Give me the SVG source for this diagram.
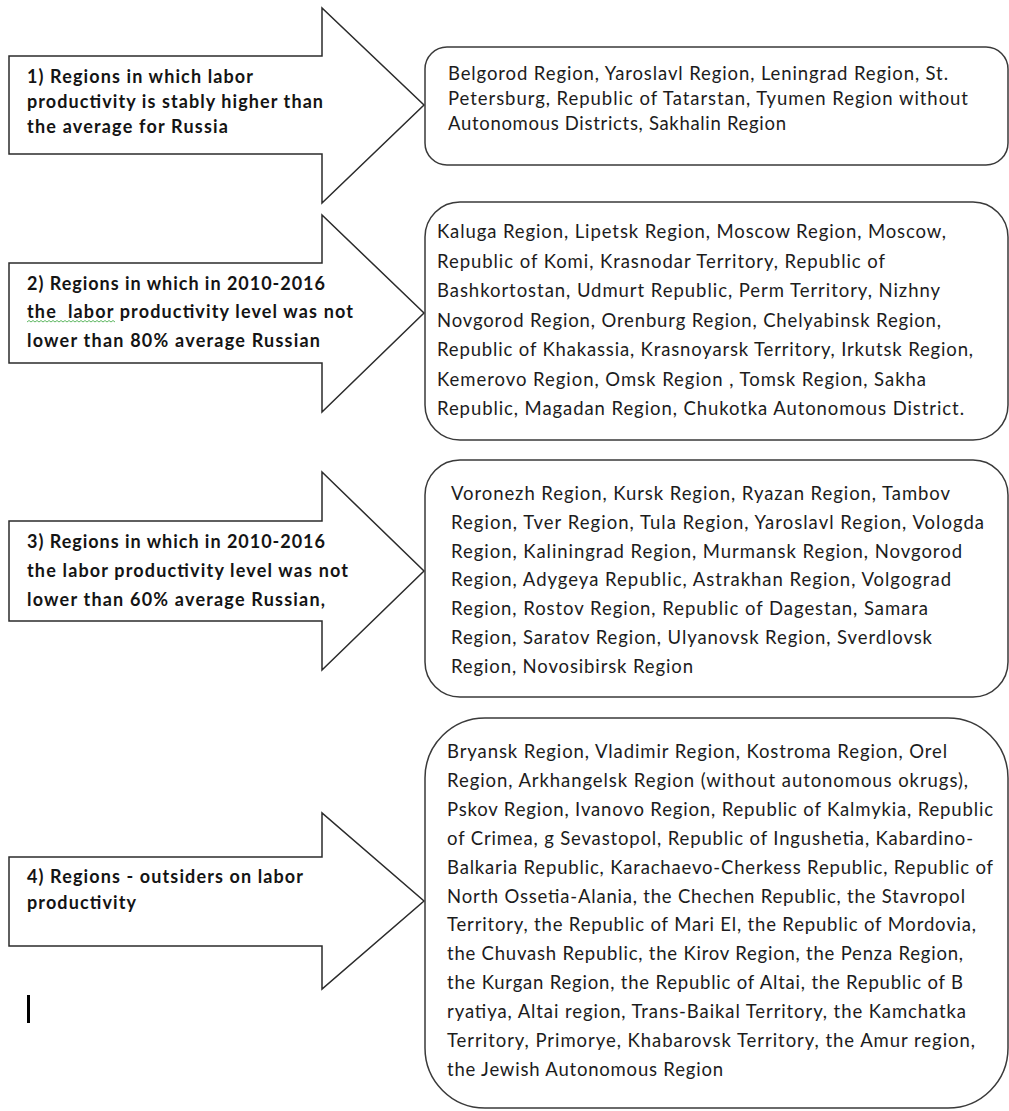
<svg xmlns="http://www.w3.org/2000/svg" width="1009" height="1111" viewBox="0 0 1009 1111">
<style>
.arrow{fill:#fff;stroke:#2b2b2b;stroke-width:1.5;stroke-linejoin:miter}
.box{fill:#fff;stroke:#3a3a3a;stroke-width:1.5}
.lbl{font-family:Lato,"Liberation Sans",sans-serif;font-weight:bold;font-size:18px;fill:#141414}
.txt{font-family:Lato,"Liberation Sans",sans-serif;font-size:18.5px;fill:#1c1c1c}
</style>
<rect width="1009" height="1111" fill="#fff"/>
<g id="connectors"></g>

<g id="arrow1">
<polygon class="arrow" points="9,56 322,56 322,8 424,105 322,203 322,154 9,154"/>
<text class="lbl" x="27" y="83" textLength="226">1) Regions in which labor</text>
<text class="lbl" x="27" y="108" textLength="296">productivity is stably higher than</text>
<text class="lbl" x="27" y="133" textLength="201">the average for Russia</text>
</g>

<g id="arrow2">
<polygon class="arrow" points="9,263 322,263 322,215 424,313 322,412 322,363 9,363"/>
<text class="lbl" x="27" y="290" textLength="298">2) Regions in which in 2010-2016</text>
<text class="lbl" x="27" y="318" textLength="326" xml:space="preserve">the  labor productivity level was not</text>
<text class="lbl" x="27" y="347" textLength="293">lower than 80% average Russian</text>
<path d="M27,322 l2,-1.5 l2,1.5 l2,-1.5 l2,1.5 l2,-1.5 l2,1.5 l2,-1.5 l2,1.5 l2,-1.5 l2,1.5 l2,-1.5 l2,1.5 l2,-1.5 l2,1.5 l2,-1.5 l2,1.5 l2,-1.5 l2,1.5 l2,-1.5 l2,1.5 l2,-1.5 l2,1.5 l2,-1.5 l2,1.5 l2,-1.5 l2,1.5 l2,-1.5 l2,1.5 l2,-1.5 l2,1.5 l2,-1.5 l2,1.5 l2,-1.5 l2,1.5 l2,-1.5 l2,1.5 l2,-1.5 l2,1.5 l2,-1.5 l2,1.5 l2,-1.5 l2,1.5 l2,-1.5 l2,1.5" fill="none" stroke="#4caf50" stroke-width="0.9"/>
</g>

<g id="arrow3">
<polygon class="arrow" points="9,521 322,521 322,472 424,571 322,670 322,621 9,621"/>
<text class="lbl" x="27" y="548" textLength="298">3) Regions in which in 2010-2016</text>
<text class="lbl" x="27" y="577" textLength="321">the labor productivity level was not</text>
<text class="lbl" x="27" y="606" textLength="298">lower than 60% average Russian,</text>
</g>

<g id="arrow4">
<polygon class="arrow" points="9,857 322,857 322,813 424,901 322,989 322,946 9,946"/>
<text class="lbl" x="27" y="883" textLength="276">4) Regions - outsiders on labor</text>
<text class="lbl" x="27" y="909" textLength="109">productivity</text>
</g>

<rect id="cursor" x="27" y="995" width="3" height="28" fill="#000"/>

<g id="box1">
<rect class="box" x="425" y="47" width="583" height="118" rx="22" ry="22"/>
<text class="txt" x="448" y="80" textLength="500">Belgorod Region, Yaroslavl Region, Leningrad Region, St.</text>
<text class="txt" x="448" y="105" textLength="520">Petersburg, Republic of Tatarstan, Tyumen Region without</text>
<text class="txt" x="448" y="130" textLength="338">Autonomous Districts, Sakhalin Region</text>
</g>

<g id="box2">
<rect class="box" x="425" y="202" width="583" height="238" rx="35" ry="35"/>
<text class="txt" x="437" y="238" textLength="509">Kaluga Region, Lipetsk Region, Moscow Region, Moscow,</text>
<text class="txt" x="437" y="267.5" textLength="448">Republic of Komi, Krasnodar Territory, Republic of</text>
<text class="txt" x="437" y="297" textLength="503">Bashkortostan, Udmurt Republic, Perm Territory, Nizhny</text>
<text class="txt" x="437" y="326.5" textLength="504">Novgorod Region, Orenburg Region, Chelyabinsk Region,</text>
<text class="txt" x="437" y="356" textLength="536">Republic of Khakassia, Krasnoyarsk Territory, Irkutsk Region,</text>
<text class="txt" x="437" y="385.5" textLength="489">Kemerovo Region, Omsk Region , Tomsk Region, Sakha</text>
<text class="txt" x="437" y="415" textLength="527">Republic, Magadan Region, Chukotka Autonomous District.</text>
</g>

<g id="box3">
<rect class="box" x="425" y="460" width="583" height="237" rx="35" ry="35"/>
<text class="txt" x="451" y="500" textLength="499">Voronezh Region, Kursk Region, Ryazan Region, Tambov</text>
<text class="txt" x="451" y="528.8" textLength="533">Region, Tver Region, Tula Region, Yaroslavl Region, Vologda</text>
<text class="txt" x="451" y="557.6" textLength="511">Region, Kaliningrad Region, Murmansk Region, Novgorod</text>
<text class="txt" x="451" y="586.4" textLength="500">Region, Adygeya Republic, Astrakhan Region, Volgograd</text>
<text class="txt" x="451" y="615.2" textLength="477">Region, Rostov Region, Republic of Dagestan, Samara</text>
<text class="txt" x="451" y="644" textLength="481">Region, Saratov Region, Ulyanovsk Region, Sverdlovsk</text>
<text class="txt" x="451" y="672.8" textLength="242">Region, Novosibirsk Region</text>
</g>

<g id="box4">
<rect class="box" x="425" y="718" width="583" height="390" rx="60" ry="60"/>
<text class="txt" x="447" y="758" textLength="500">Bryansk Region, Vladimir Region, Kostroma Region, Orel</text>
<text class="txt" x="447" y="786.9" textLength="521">Region, Arkhangelsk Region (without autonomous okrugs),</text>
<text class="txt" x="447" y="815.8" textLength="546">Pskov Region, Ivanovo Region, Republic of Kalmykia, Republic</text>
<text class="txt" x="447" y="844.7" textLength="526">of Crimea, g Sevastopol, Republic of Ingushetia, Kabardino-</text>
<text class="txt" x="447" y="873.6" textLength="546">Balkaria Republic, Karachaevo-Cherkess Republic, Republic of</text>
<text class="txt" x="447" y="902.5" textLength="518">North Ossetia-Alania, the Chechen Republic, the Stavropol</text>
<text class="txt" x="447" y="931.4" textLength="529">Territory, the Republic of Mari El, the Republic of Mordovia,</text>
<text class="txt" x="447" y="960.3" textLength="516">the Chuvash Republic, the Kirov Region, the Penza Region,</text>
<text class="txt" x="447" y="989.2" textLength="516">the Kurgan Region, the Republic of Altai, the Republic of B</text>
<text class="txt" x="447" y="1018.1" textLength="519">ryatiya, Altai region, Trans-Baikal Territory, the Kamchatka</text>
<text class="txt" x="447" y="1047" textLength="528">Territory, Primorye, Khabarovsk Territory, the Amur region,</text>
<text class="txt" x="447" y="1075.9" textLength="276">the Jewish Autonomous Region</text>
</g>
</svg>
